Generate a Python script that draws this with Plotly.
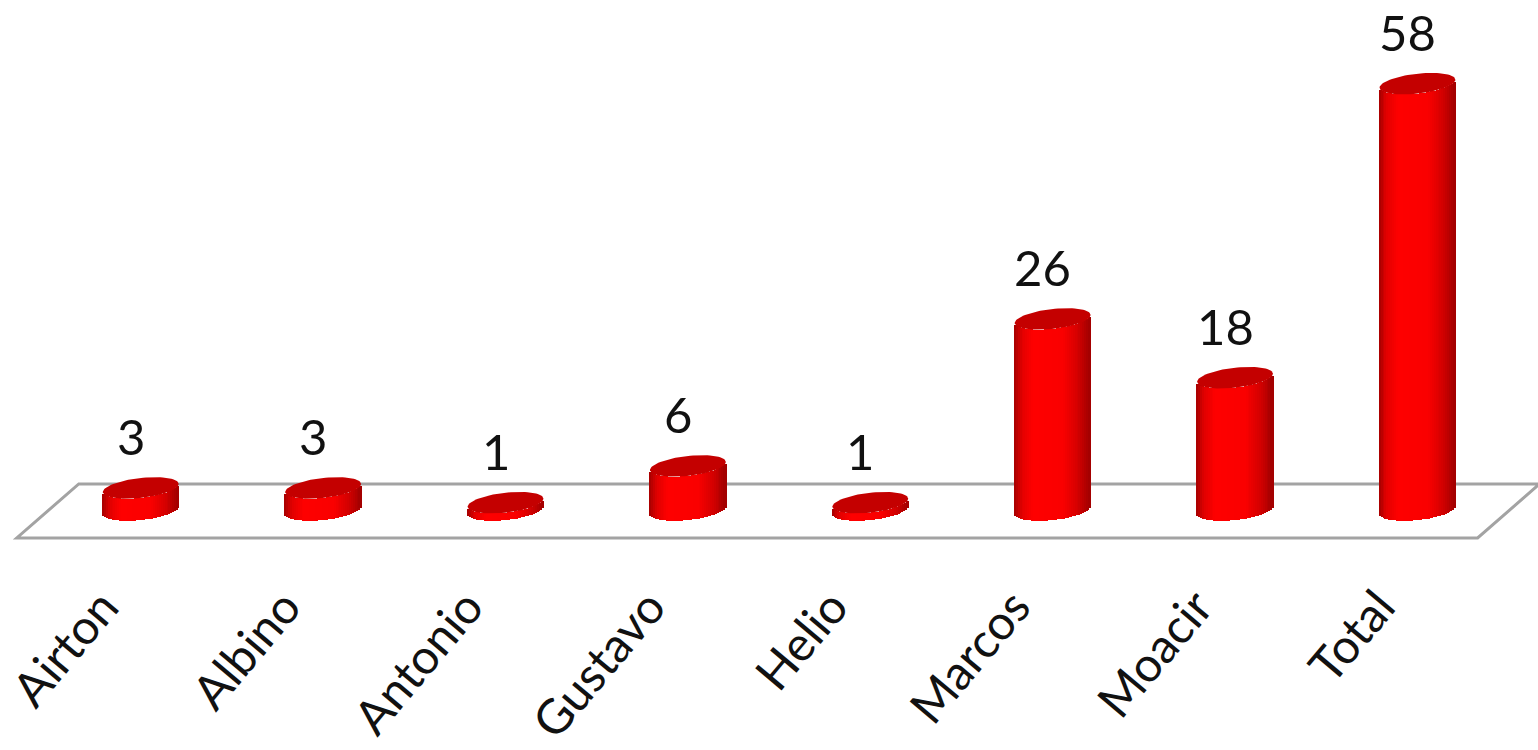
import numpy as np
import plotly.graph_objects as go

# data
names = ["Airton", "Albino", "Antonio", "Gustavo", "Helio", "Marcos", "Moacir", "Total"]
counts = [3, 3, 1, 6, 1, 26, 18, 58]

xs = list(range(len(names)))
n = len(names)

# cylinder geometry (axis units)
rad_x = 0.208      # half width of a cylinder
rad_y = 1.36       # half height of the elliptic faces
tilt = 0.54        # right side of the ellipse sits higher
n_strips = 40

fig = go.Figure()

# cylinder sides, drawn as thin vertical strips for the shading
shade_p = [0.0, 0.1, 0.25, 0.65, 0.85, 1.0]
shade_r = [165, 225, 255, 250, 210, 160]
step = 2 * rad_x / n_strips
for k in range(n_strips):
    u = -1 + (k + 0.5) * 2 / n_strips
    r = int(np.interp((u + 1) / 2, shade_p, shade_r))
    base = -rad_y * np.sqrt(1 - u * u) + tilt * u
    fig.add_trace(go.Bar(
        x=xs, y=counts, base=[base] * n,
        width=step * 1.8, offset=u * rad_x - step * 0.9,
        marker=dict(color=f"rgb({r},0,0)", line=dict(width=0)),
        hoverinfo="skip", showlegend=False))

# top faces
t = np.linspace(0, 2 * np.pi, 80)
for x0, v in zip(xs, counts):
    fig.add_trace(go.Scatter(
        x=x0 + rad_x * np.cos(t), y=v + rad_y * np.sin(t) + tilt * np.cos(t),
        mode="lines", fill="toself", fillcolor="#c40000", line=dict(width=0, color="#c40000"),
        hoverinfo="skip", showlegend=False))

for x0, v in zip(xs, counts):
    fig.add_annotation(x=x0, y=v, text=str(v), showarrow=False, yanchor="bottom",
                       yshift=21, xshift=-10, font=dict(family="Lato", size=49, color="#111"))

# floor plane, behind the cylinders
x_front = (-0.68, n - 1 + 0.33)
depth_shift = 0.34
y_front, y_back = -3.8, 3.55
floor_path = (f"M {x_front[0]},{y_front} L {x_front[1]},{y_front} "
              f"L {x_front[1] + depth_shift},{y_back} L {x_front[0] + depth_shift},{y_back} Z")
fig.add_shape(type="path", path=floor_path, xref="x", yref="y", layer="below",
              fillcolor="white", line=dict(color="#a3a3a3", width=3))

fig.update_layout(
    width=1538, height=750,
    barmode="overlay", bargap=0,
    plot_bgcolor="white", paper_bgcolor="white",
    margin=dict(l=0, r=0, t=0, b=182),
    xaxis=dict(range=[-0.761, 7.661], tickvals=[x - 0.21 for x in xs], ticktext=names,
               tickangle=-50, showgrid=False, zeroline=False, showline=False, ticks="",
               ticklabeloverflow="allow",
               tickfont=dict(family="Lato", size=48, color="#111")),
    yaxis=dict(range=[-7.89, 69.39], visible=False),
)

fig.write_html("out.html", config={"displayModeBar": False},
               post_script="document.body.style.margin='0';")
